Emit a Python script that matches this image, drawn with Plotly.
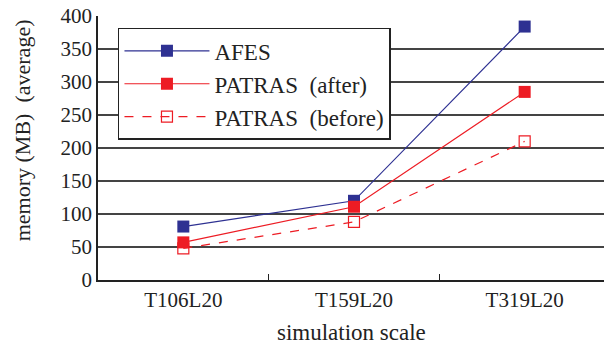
import plotly.graph_objects as go

categories = ["T106L20", "T159L20", "T319L20"]
afes = [81, 120, 384]
patras_after = [57, 111, 285]
patras_before = [48, 88, 210]
y_ticks = [0, 50, 100, 150, 200, 250, 300, 350, 400]

blue = "#2E3192"
red = "#ED1C24"
font = "Liberation Serif"

fig = go.Figure()
fig.add_trace(go.Scatter(x=categories, y=afes, name="AFES", mode="lines+markers",
                         line=dict(color=blue, width=1.2),
                         marker=dict(symbol="square", size=12, color=blue)))
fig.add_trace(go.Scatter(x=categories, y=patras_after, name="PATRAS  (after)", mode="lines+markers",
                         line=dict(color=red, width=1.2),
                         marker=dict(symbol="square", size=12, color=red)))
fig.add_trace(go.Scatter(x=categories, y=patras_before, name="PATRAS  (before)", mode="lines+markers",
                         line=dict(color=red, width=1.2, dash="dash"),
                         marker=dict(symbol="square-open", size=11, color=red, line=dict(width=1.2))))

# page has an 8px body margin, so the figure is sized/offset to compensate
fig.update_layout(
    width=604, height=342,
    margin=dict(l=90, r=2, t=8, b=70),
    paper_bgcolor="white", plot_bgcolor="white",
    font=dict(family=font, size=21, color="#222"),
    showlegend=True,
    legend=dict(x=0.039, y=0.955, xanchor="left", yanchor="top",
                bgcolor="white", bordercolor="#222", borderwidth=1.5,
                font=dict(family=font, size=23), tracegroupgap=0,
                itemwidth=85),
    annotations=[
        dict(text="simulation scale", xref="paper", yref="paper", x=0.496, y=-0.2,
             xanchor="center", yanchor="middle", showarrow=False,
             font=dict(family=font, size=23, color="#222")),
        dict(text="memory (MB)  (average)", xref="paper", yref="paper", x=-0.148, y=0.568,
             xanchor="center", yanchor="middle", textangle=-90, showarrow=False,
             font=dict(family=font, size=22, color="#222")),
    ],
)
fig.update_xaxes(
    type="category", range=[-0.5, 2.5], tickson="boundaries", ticks="inside", ticklen=6, tickcolor="#222",
    showline=True, linecolor="#222", linewidth=1.5, showgrid=False, automargin=False,
    tickfont=dict(family=font, size=21), ticklabeloverflow="allow",
)
fig.update_yaxes(
    range=[0, 400], tickvals=y_ticks, showgrid=True, gridcolor="#444", gridwidth=1.5,
    showline=True, linecolor="#222", linewidth=1.5, zeroline=False, automargin=False,
    tickfont=dict(family=font, size=21), ticklabeloverflow="allow",
)

fig.write_html("out.html")
